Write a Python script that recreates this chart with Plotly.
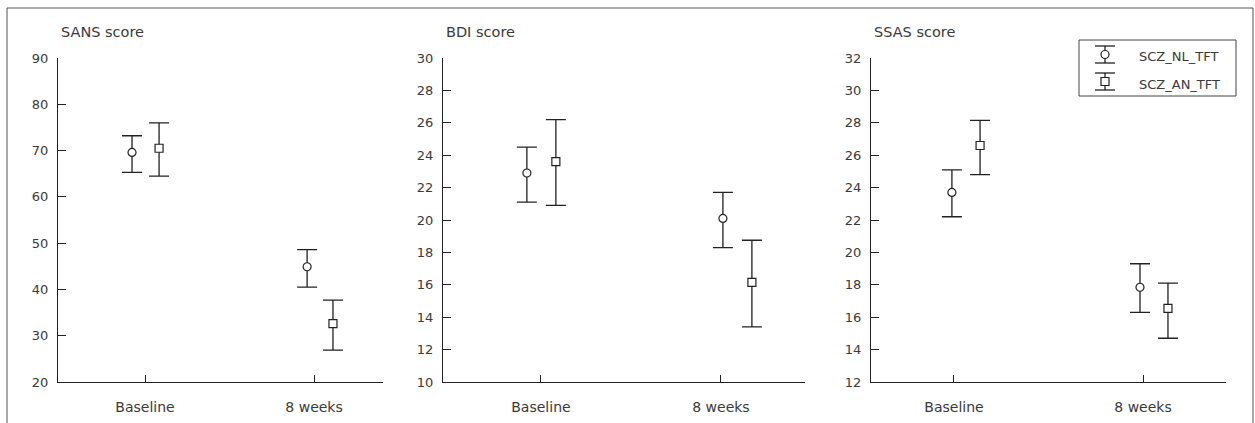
import plotly.graph_objects as go

# ---------------- data ----------------
timepoints = ["Baseline", "8 weeks"]
series_names = ["SCZ_NL_TFT", "SCZ_AN_TFT"]
panel_titles = ["SANS score", "BDI score", "SSAS score"]

sans_nl_mean = [69.6, 44.9]
sans_nl_upper = [73.2, 48.6]
sans_nl_lower = [65.3, 40.5]
sans_an_mean = [70.5, 32.6]
sans_an_upper = [76.0, 37.7]
sans_an_lower = [64.5, 26.9]

bdi_nl_mean = [22.9, 20.1]
bdi_nl_upper = [24.5, 21.7]
bdi_nl_lower = [21.1, 18.3]
bdi_an_mean = [23.6, 16.15]
bdi_an_upper = [26.2, 18.75]
bdi_an_lower = [20.9, 13.4]

ssas_nl_mean = [23.7, 17.85]
ssas_nl_upper = [25.1, 19.3]
ssas_nl_lower = [22.2, 16.3]
ssas_an_mean = [26.6, 16.55]
ssas_an_upper = [28.15, 18.1]
ssas_an_lower = [24.8, 14.7]

sans_ticks = [20, 30, 40, 50, 60, 70, 80, 90]
bdi_ticks = [10, 12, 14, 16, 18, 20, 22, 24, 26, 28, 30]
ssas_ticks = [12, 14, 16, 18, 20, 22, 24, 26, 28, 30, 32]

# ---------------- layout / style ----------------
W, H = 1255, 423
FONT = "DejaVu Sans"
TXT = "#3a3a3a"
INK = "#222222"


def px(x):
    return x / W


def py(y):
    return 1 - y / H


panels = [
    dict(data=[(sans_nl_mean, sans_nl_upper, sans_nl_lower),
               (sans_an_mean, sans_an_upper, sans_an_lower)],
         ticks=sans_ticks, xdom=(58, 383), xr=(-0.515, 1.408),
         dodge=[(-0.077, -0.041), (0.083, 0.112)]),
    dict(data=[(bdi_nl_mean, bdi_nl_upper, bdi_nl_lower),
               (bdi_an_mean, bdi_an_upper, bdi_an_lower)],
         ticks=bdi_ticks, xdom=(443, 805), xr=(-0.544, 1.467),
         dodge=[(-0.078, 0.011), (0.083, 0.172)]),
    dict(data=[(ssas_nl_mean, ssas_nl_upper, ssas_nl_lower),
               (ssas_an_mean, ssas_an_upper, ssas_an_lower)],
         ticks=ssas_ticks, xdom=(871, 1226), xr=(-0.439, 1.439),
         dodge=[(-0.011, -0.016), (0.138, 0.132)]),
]
symbols = ["circle", "square"]
YTOP, YBOT = 58, 382

fig = go.Figure()
layout = {}
annotations = []
for i, p in enumerate(panels):
    n = "" if i == 0 else str(i + 1)
    for s, (mean, up, lo) in enumerate(p["data"]):
        xs = [k + p["dodge"][s][k] for k in range(len(timepoints))]
        fig.add_trace(go.Scatter(
            x=xs, y=mean, mode="markers", name=series_names[s],
            showlegend=False, xaxis="x" + n, yaxis="y" + n,
            marker=dict(symbol=symbols[s], size=8, color="white",
                        line=dict(color=INK, width=1.2)),
            error_y=dict(type="data", symmetric=False,
                         array=[u - m for u, m in zip(up, mean)],
                         arrayminus=[m - l for m, l in zip(mean, lo)],
                         color=INK, thickness=1.3, width=10),
        ))
    layout["xaxis" + n] = dict(
        domain=[px(p["xdom"][0]), px(p["xdom"][1])], range=list(p["xr"]),
        anchor="y" + n, showline=True, linecolor=INK, linewidth=1,
        ticks="inside", ticklen=7, tickcolor=INK, tickwidth=1,
        tickvals=[0, 1, p["xr"][1]], ticktext=timepoints + [""],
        showgrid=False, zeroline=False, ticklabelstandoff=12,
        automargin=False,
        tickfont=dict(family=FONT, size=14, color=TXT))
    layout["yaxis" + n] = dict(
        domain=[py(YBOT), py(YTOP)], range=[p["ticks"][0], p["ticks"][-1]],
        anchor="x" + n, showline=True, linecolor=INK, linewidth=1,
        ticks="inside", ticklen=8, tickcolor=INK, tickwidth=1,
        tickvals=p["ticks"], showgrid=False, zeroline=False,
        ticklabelstandoff=6, automargin=False,
        tickfont=dict(family=FONT, size=13, color=TXT))
    annotations.append(dict(
        text=panel_titles[i], xref="paper", yref="paper",
        x=px(p["xdom"][0] + 1), y=py(32), xanchor="left", yanchor="middle",
        showarrow=False, font=dict(family=FONT, size=14.5, color=TXT)))

# legend (drawn by hand so that the error-bar glyph is shown)
shapes = [
    dict(type="rect", xref="paper", yref="paper", x0=px(7), x1=px(1253),
         y0=py(440), y1=py(8), line=dict(color="#555555", width=1)),
    dict(type="rect", xref="paper", yref="paper", x0=px(1079), x1=px(1236),
         y0=py(96), y1=py(40), line=dict(color="#444444", width=1),
         fillcolor="white"),
]
rows = [(46, 54.5, 63, 57), (73, 81.5, 90, 85)]
GX = 1105
for s, (t, c, b, ty) in enumerate(rows):
    shapes += [
        dict(type="line", xref="paper", yref="paper", x0=px(GX), x1=px(GX),
             y0=py(b), y1=py(t), line=dict(color=INK, width=1.3)),
        dict(type="line", xref="paper", yref="paper", x0=px(GX - 10), x1=px(GX + 10),
             y0=py(t), y1=py(t), line=dict(color=INK, width=1.3)),
        dict(type="line", xref="paper", yref="paper", x0=px(GX - 10), x1=px(GX + 10),
             y0=py(b), y1=py(b), line=dict(color=INK, width=1.3)),
        dict(type="circle" if s == 0 else "rect", xref="paper", yref="paper",
             x0=px(GX - 4), x1=px(GX + 4), y0=py(c + 4), y1=py(c - 4),
             line=dict(color=INK, width=1.2), fillcolor="white"),
    ]
    annotations.append(dict(
        text=series_names[s], xref="paper", yref="paper", x=px(1137), y=py(ty),
        xanchor="left", yanchor="middle", showarrow=False,
        font=dict(family=FONT, size=13, color=TXT)))

fig.update_layout(
    width=W, height=H, autosize=False,
    margin=dict(l=0, r=0, t=0, b=0, pad=0),
    paper_bgcolor="white", plot_bgcolor="white",
    showlegend=False, hovermode=False,
    shapes=shapes, annotations=annotations,
    **layout)

fig.write_html(
    "out.html",
    config={"responsive": False, "displayModeBar": False, "staticPlot": True},
    post_script="document.body.style.margin='0';document.body.style.overflow='hidden';",
)
